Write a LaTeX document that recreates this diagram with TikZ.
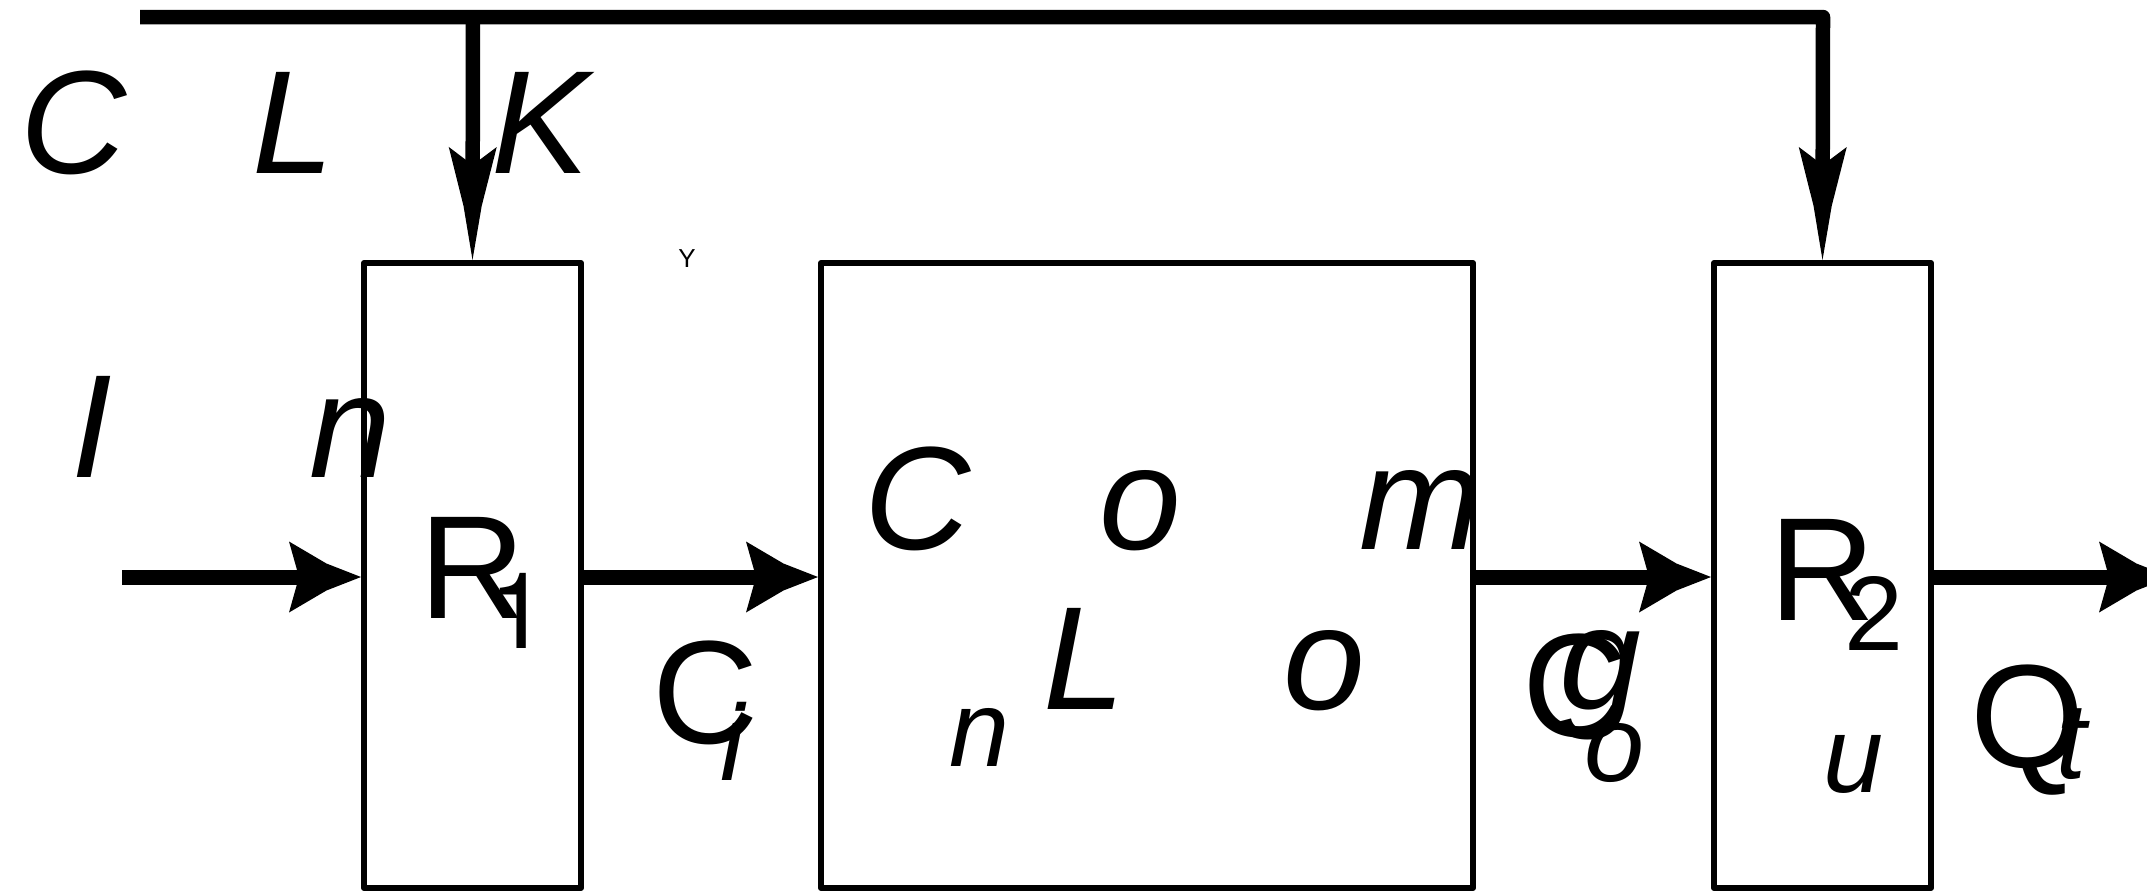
\documentclass[tikz,border=0pt]{standalone}
\usepackage{fontspec}
\setmainfont{Liberation Sans}
\newfontfamily\herosfont{TeX Gyre Heros}
\usetikzlibrary{arrows.meta}
\pgfdeclarearrow{
  name = Spike,
  defaults = {length = 36pt, width = 35pt, inset = 5pt},
  setup code = {
    \pgfarrowssettipend{0pt}
    \pgfarrowssetbackend{-\pgfarrowlength}
    \pgfarrowssetlineend{-0.6\pgfarrowlength}
    \pgfarrowssavethe\pgfarrowlength
    \pgfarrowssavethe\pgfarrowwidth
    \pgfarrowssavethe\pgfarrowinset
  },
  drawing code = {
    \pgfpathmoveto{\pgfqpoint{0pt}{0pt}}
    \pgfpathlineto{\pgfpoint{-0.48\pgfarrowlength}{0.19\pgfarrowwidth}}
    \pgfpathlineto{\pgfpoint{-\pgfarrowlength}{0.5\pgfarrowwidth}}
    \pgfpathlineto{\pgfpoint{-\pgfarrowlength+\pgfarrowinset}{0pt}}
    \pgfpathlineto{\pgfpoint{-\pgfarrowlength}{-0.5\pgfarrowwidth}}
    \pgfpathlineto{\pgfpoint{-0.48\pgfarrowlength}{-0.19\pgfarrowwidth}}
    \pgfpathclose
    \pgfusepathqfill
  },
  parameters = {\the\pgfarrowlength,\the\pgfarrowwidth,\the\pgfarrowinset},
}
\begin{document}
\begin{tikzpicture}[x=0.5pt,y=-0.5pt,
  wire/.style={line width=7.25pt, line join=round},
  varrow/.style={wire, -{Spike[length=56.5pt,width=24pt,inset=9pt]}},
  harrow/.style={line width=7.5pt, -{Spike[length=36pt,width=35.5pt,inset=5pt]}},
  box/.style={draw, line width=3pt, line join=round, inner sep=0pt, minimum height=312.5pt},
  bigit/.style={inner sep=0pt, anchor=base, font=\fontsize{73.5}{80}\selectfont\itshape},
  bigup/.style={inner sep=0pt, anchor=base, font=\fontsize{73.5}{80}\selectfont},
  smit/.style={inner sep=0pt, anchor=base, font=\fontsize{54}{60}\selectfont\itshape},
  smup/.style={inner sep=0pt, anchor=base, font=\fontsize{53}{60}\selectfont},
  tiny/.style={inner sep=0pt, anchor=base, font=\fontsize{13}{15}\selectfont}]
\useasboundingbox (0,0) rectangle (2147,891);
\clip (0,0) rectangle (2147,891);
% boxes
\node[box, minimum width=108.5pt] (r1) at (472.5,575.5) {};
\node[box, minimum width=326pt] (comb) at (1147,575.5) {};
\node[box, minimum width=108.5pt] (r2) at (1822.5,575.5) {};
% clock
\coordinate (clkstart) at (140,17);
\coordinate (clkcorner) at (1823,17);
\coordinate (tap) at (473,17);
\draw[varrow] (clkstart) -- (clkcorner) -- (r2.north);
\draw[varrow] (tap) -- (r1.north);
% data arrows
\coordinate (in) at (122,577);
\coordinate (out) at (2171,577);
\draw[harrow] (in) -- (in -| r1.west);
\draw[harrow] (in -| r1.east) -- (in -| comb.west);
\draw[harrow] (in -| comb.east) -- (in -| r2.west);
\draw[harrow] (in -| r2.east) -- (out);
% letters
\node[bigit] (c1) at (74,173) {C};
\node[bigit] (l1) at (293,173) {L};
\node[bigit] (k1) at (541,173) {K};
\node[tiny] (y1) at (687,267) {Y};
\node[bigit] (i1) at (92,477) {I};
\node[bigit] (n1) at (350,477) {n};
\node[bigup] (ra) at (473,618) {R};
\node[smup] (one) at (519,648) {\herosfont 1};
\node[bigup] (ci) at (706,743) {C};
\node[smit] (ii) at (732,780) {i};
\node[smit] (ni) at (980,766) {n};
\node[bigit] (cc) at (918,549) {C};
\node[bigit] (oc) at (1140,549) {o};
\node[bigit] (mc) at (1421,549) {m};
\node[bigit] (ll) at (1084,709) {L};
\node[bigit] (ol) at (1324,709) {o};
\node[bigit] (gl) at (1600,709) {g};
\node[bigup] (co) at (1576,736) {C};
\node[smit] (oo) at (1615,781) {o};
\node[bigup] (rb) at (1823,620) {R};
\node[smup] (two) at (1874,650) {2};
\node[smit] (uu) at (1854,792) {u};
\node[bigup] (qq) at (2028,767) {Q};
\node[smit] (tt) at (2071,778) {t};
\end{tikzpicture}
\end{document}
